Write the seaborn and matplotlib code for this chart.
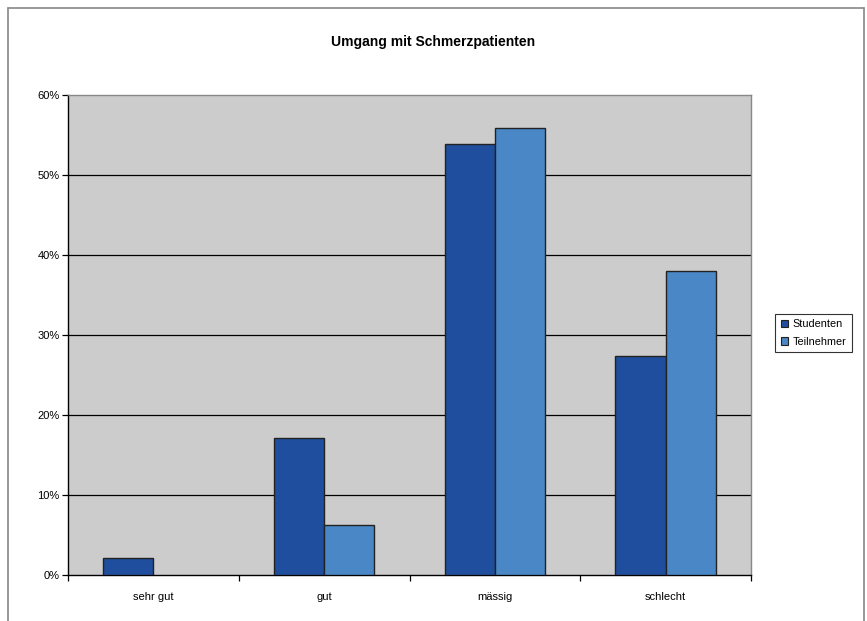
"""
Umgang mit Schmerzpatienten - grouped bar chart
"""

###########
# IMPORTS #
###########
import seaborn as sns
import matplotlib.pyplot as plt
from matplotlib.ticker import FuncFormatter, FixedLocator
from matplotlib.lines import Line2D
from matplotlib.patches import Patch
import pandas as pd

########
# DATA #
########
categories = ['sehr gut', 'gut', 'mässig', 'schlecht']
groups = ['Studenten', 'Teilnehmer']
studenten = [2.1, 17.1, 53.9, 27.4]
teilnehmer = [0.0, 6.2, 55.9, 38.0]
y_ticks = [0, 10, 20, 30, 40, 50, 60]

colors = {'Studenten': '#1F4E9E', 'Teilnehmer': '#4A87C6'}

df = pd.DataFrame({
    'Kategorie': categories * 2,
    'Gruppe': [groups[0]] * 4 + [groups[1]] * 4,
    'Anteil': studenten + teilnehmer,
})

#########
# PLOTS #
#########
sns.set_style('white')
plt.rcParams['font.family'] = ['Liberation Sans', 'DejaVu Sans']
plt.rcParams['text.color'] = 'black'
plt.rcParams['xtick.color'] = 'black'
plt.rcParams['ytick.color'] = 'black'

fig = plt.figure(figsize=(8.67, 6.21), dpi=100)
ax = fig.add_axes([68 / 867, 46 / 621, 683 / 867, 480 / 621])
ax.set_facecolor('#CCCCCC')

sns.barplot(data=df, x='Kategorie', y='Anteil', hue='Gruppe', order=categories,
            hue_order=groups, palette=colors, width=0.59, edgecolor='#222222',
            linewidth=1, saturation=1, ax=ax, legend=False, zorder=3)

# Hide outlines of empty bars
for bar in ax.patches:
    if bar.get_height() == 0:
        bar.set_linewidth(0)

# Horizontal grid lines in black
for t in y_ticks[1:-1]:
    ax.axhline(t, color='black', linewidth=0.9, zorder=1)

ax.set_ylim(0, 60)
ax.set_xlim(-0.5, 3.5)
ax.set_yticks(y_ticks)
ax.yaxis.set_major_formatter(FuncFormatter(lambda x, _: f"{x:.0f}%"))
ax.tick_params(axis='y', direction='out', length=4, width=0.9, colors='black',
               labelsize=8, pad=2, left=True)

# Category labels without ticks, ticks at category boundaries
ax.tick_params(axis='x', which='major', length=0, labelsize=8, pad=12, labelcolor='black')
ax.xaxis.set_minor_locator(FixedLocator([-0.5, 0.5, 1.5, 2.5, 3.5]))
ax.tick_params(axis='x', which='minor', direction='out', length=4, width=0.9,
               color='black', bottom=True)
ax.set_xlabel('')
ax.set_ylabel('')

for side in ['left', 'bottom']:
    ax.spines[side].set_color('black')
    ax.spines[side].set_linewidth(1)
for side in ['top', 'right']:
    ax.spines[side].set_color('#888888')
    ax.spines[side].set_linewidth(1)

# Title
fig.text(0.5, 1 - 42 / 621, 'Umgang mit Schmerzpatienten', ha='center', va='center',
         fontsize=10, fontweight='bold', color='black')

# Legend
handles = [Patch(facecolor=colors[g], edgecolor='#222222', linewidth=0.8, label=g)
           for g in groups]
leg = fig.legend(handles=handles, loc='center left', bbox_to_anchor=(770 / 867, 1 - 333 / 621),
                 fontsize=7.8, frameon=True, fancybox=False, handlelength=0.7,
                 handleheight=0.7, handletextpad=0.4, borderpad=0.5, labelspacing=0.7)
leg.get_frame().set_edgecolor('black')
leg.get_frame().set_linewidth(0.8)

# Outer chart border (left, top, right)
fig.add_artist(Line2D([8 / 867, 8 / 867], [0, 1 - 8 / 621], color='#888888', linewidth=1.2))
fig.add_artist(Line2D([8 / 867, 864 / 867], [1 - 8 / 621, 1 - 8 / 621], color='#888888', linewidth=1.2))
fig.add_artist(Line2D([864 / 867, 864 / 867], [0, 1 - 8 / 621], color='#888888', linewidth=1.2))

plt.savefig('out.png', dpi=100)
